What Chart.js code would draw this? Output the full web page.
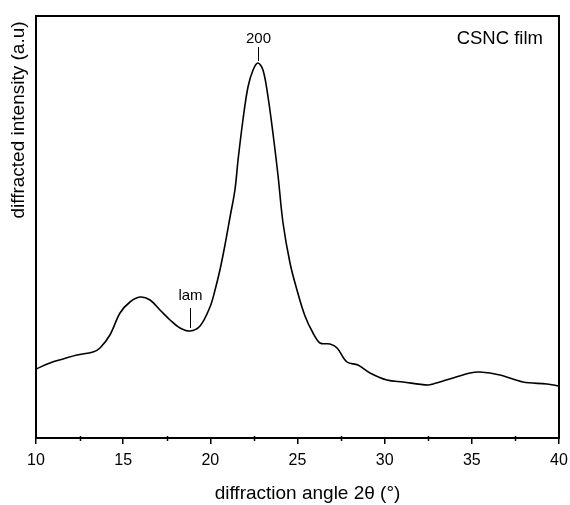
<!DOCTYPE html>
<html>
<head>
<meta charset="utf-8">
<script src="https://cdn.jsdelivr.net/npm/chart.js@4"></script>
<style>
  html, body { margin: 0; padding: 0; background: #fff; }
  #wrap { width: 570px; height: 505px; }
</style>
</head>
<body>
<div id="wrap"><canvas id="xrd" width="570" height="505"></canvas></div>
<script>
"use strict";

/* ---- Data (2θ in degrees, intensity in a.u.) ---- */
const angles = [
  10.0, 10.8, 11.55, 12.35, 13.27, 13.67, 14.24, 14.82, 15.39, 15.97,
  16.54, 17.11, 17.69, 18.26, 18.83, 19.41, 19.98, 20.27, 20.55, 20.84,
  21.13, 21.41, 21.59, 21.87, 22.16, 22.45, 22.73, 23.02, 23.31, 23.59,
  23.88, 24.17, 24.57, 24.97, 25.43, 25.89, 26.29, 26.86, 27.27, 27.84,
  28.47, 29.16, 30.13, 31.05, 32.49, 32.77, 33.92, 34.9, 35.47, 36.61,
  37.93, 39.31, 40.0
];
const intensity = [
  69, 75, 79, 83, 86, 90, 103, 125, 136, 141,
  138, 128, 118, 110, 107, 112, 131, 148, 168, 193,
  221, 248, 278, 318, 351, 368, 375, 368, 341, 305,
  263, 215, 175, 148, 122, 105, 95, 94, 90, 76,
  73, 65, 58, 56, 53, 54, 60, 65, 66, 63,
  56, 54, 52
];
const xTicks = [10, 15, 20, 25, 30, 35, 40];
const xMinorTicks = [12.5, 17.5, 22.5, 27.5, 32.5, 37.5];
const peakNames = ["200", "lam"];
const peakAngles = [22.73, 18.83];
const peakHeights = [375, 107];
const sampleName = "CSNC film";
const xTitle = "diffraction angle 2θ (°)";
const yTitle = "diffracted intensity (a.u)";

const FONT = "'Liberation Sans', Arial, sans-serif";

// pixel offsets of each peak marker above the curve: [line start, line end, text baseline]
const markerGap = { "200": [2, 16, 20], "lam": [3, 23, 31] };

/* ---- Frame, minor ticks, titles and peak annotations ---- */
const decorations = {
  id: "decorations",
  afterDraw(chart) {
    const { ctx, chartArea: a, scales } = chart;
    const sx = scales.x, sy = scales.y;
    ctx.save();

    // box around the plot
    ctx.strokeStyle = "#000";
    ctx.lineWidth = 2;
    ctx.strokeRect(a.left, a.top, a.right - a.left, a.bottom - a.top);

    // minor ticks
    ctx.lineWidth = 1.5;
    xMinorTicks.forEach(v => {
      const px = Math.round(sx.getPixelForValue(v)) + 0.5;
      ctx.beginPath();
      ctx.moveTo(px, a.bottom - 2);
      ctx.lineTo(px, a.bottom + 3);
      ctx.stroke();
    });

    // peak labels
    ctx.fillStyle = "#000";
    ctx.font = "15px " + FONT;
    ctx.textAlign = "center";
    ctx.textBaseline = "alphabetic";
    ctx.lineWidth = 1;
    peakNames.forEach((name, i) => {
      const px = Math.round(sx.getPixelForValue(peakAngles[i])) + 0.5;
      const py = sy.getPixelForValue(peakHeights[i]);
      const g = markerGap[name];
      ctx.beginPath();
      ctx.moveTo(px, py - g[0]);
      ctx.lineTo(px, py - g[1]);
      ctx.stroke();
      ctx.fillText(name, px, py - g[2]);
    });

    // sample name
    ctx.textAlign = "right";
    ctx.font = "18.5px " + FONT;
    ctx.fillText(sampleName, a.right - 16, a.top + 28);

    // axis titles
    ctx.font = "19px " + FONT;
    ctx.textAlign = "center";
    ctx.textBaseline = "middle";
    ctx.fillText(xTitle, a.left + (a.right - a.left) / 2 + 10, 494);

    ctx.translate(19, 120);
    ctx.rotate(-Math.PI / 2);
    ctx.fillText(yTitle, 0, 0);

    ctx.restore();
  },
};

new Chart(document.getElementById("xrd"), {
  type: "scatter",
  data: {
    datasets: [{
      data: angles.map((x, i) => ({ x, y: intensity[i] })),
      showLine: true,
      borderColor: "#000",
      borderWidth: 1.6,
      pointRadius: 0,
      tension: 0.35,
      fill: false,
    }],
  },
  options: {
    responsive: false,
    animation: false,
    devicePixelRatio: 1,
    layout: { padding: { top: 16, right: 11, left: 0, bottom: 0 } },
    plugins: { legend: { display: false }, tooltip: { enabled: false } },
    scales: {
      x: {
        type: "linear",
        min: 10,
        max: 40,
        afterBuildTicks: s => { s.ticks = xTicks.map(v => ({ value: v })); },
        afterFit: s => { s.height = 67; s.paddingLeft = 0; s.paddingRight = 0; },
        border: { display: true, color: "#000", width: 2 },
        grid: { drawOnChartArea: false, drawTicks: true, tickLength: 6, color: "#000", lineWidth: 1.5 },
        ticks: { color: "#000", font: { family: FONT, size: 16 }, padding: 7, maxRotation: 0 },
        title: { display: false },
      },
      y: {
        type: "linear",
        min: 0,
        max: 422,
        afterFit: s => { s.width = 36; },
        border: { display: true, color: "#000", width: 2 },
        grid: { display: false },
        ticks: { display: false },
        title: { display: false },
      },
    },
  },
  plugins: [decorations],
});
</script>
</body>
</html>
